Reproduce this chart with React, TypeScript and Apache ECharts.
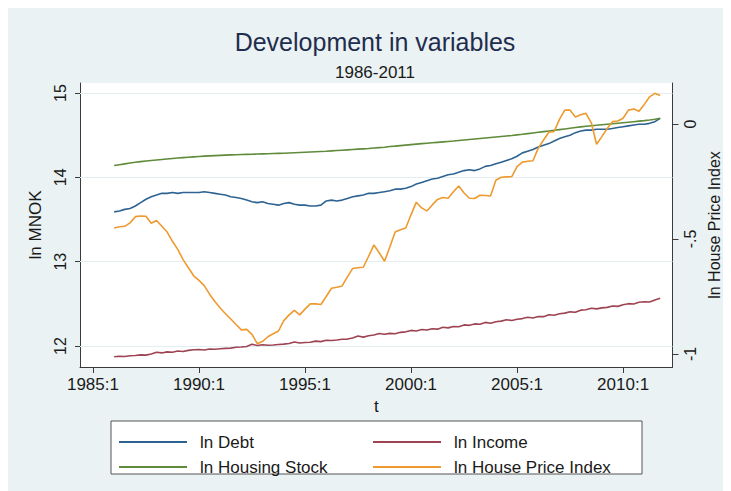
import React, { useEffect, useRef } from "react";
import * as echarts from "echarts";

const START_YEAR = 1986;

const SERIES_NAMES = ["ln Debt", "ln Income", "ln Housing Stock", "ln House Price Index"];

const debt = [
  13.59, 13.60, 13.62, 13.63,
  13.66, 13.70, 13.74, 13.77,
  13.79, 13.81, 13.81, 13.82,
  13.81, 13.82, 13.82, 13.82,
  13.82, 13.83, 13.82, 13.81,
  13.80, 13.79, 13.77, 13.76,
  13.75, 13.73, 13.71, 13.70,
  13.71, 13.69, 13.68, 13.67,
  13.69, 13.70, 13.68, 13.67,
  13.67, 13.66, 13.66, 13.67,
  13.72, 13.73, 13.72, 13.73,
  13.75, 13.77, 13.78, 13.79,
  13.81, 13.81, 13.82, 13.83,
  13.84, 13.86, 13.86, 13.87,
  13.89, 13.92, 13.94, 13.96,
  13.98, 13.99, 14.01, 14.03,
  14.04, 14.06, 14.08, 14.09,
  14.08, 14.10, 14.13, 14.14,
  14.16, 14.18, 14.20, 14.22,
  14.25, 14.29, 14.31, 14.33,
  14.36, 14.38, 14.40, 14.43,
  14.46, 14.48, 14.50, 14.53,
  14.55, 14.56, 14.56, 14.57,
  14.57, 14.57, 14.58, 14.59,
  14.60, 14.61, 14.62, 14.63,
  14.63, 14.64, 14.66, 14.70,
];

const income = [
  11.873, 11.878, 11.876, 11.885,
  11.888, 11.895, 11.892, 11.905,
  11.925, 11.918, 11.930, 11.925,
  11.940, 11.935, 11.948, 11.955,
  11.958, 11.952, 11.965, 11.962,
  11.968, 11.972, 11.975, 11.985,
  11.988, 11.995, 12.020, 12.005,
  12.015, 12.008, 12.012, 12.018,
  12.022, 12.030, 12.048, 12.035,
  12.042, 12.045, 12.058, 12.052,
  12.068, 12.065, 12.072, 12.080,
  12.082, 12.095, 12.118, 12.105,
  12.122, 12.130, 12.148, 12.140,
  12.150, 12.145, 12.162, 12.168,
  12.185, 12.178, 12.195, 12.190,
  12.205, 12.200, 12.222, 12.215,
  12.232, 12.228, 12.250, 12.245,
  12.262, 12.258, 12.280, 12.270,
  12.288, 12.295, 12.312, 12.302,
  12.318, 12.325, 12.340, 12.332,
  12.350, 12.348, 12.370, 12.365,
  12.382, 12.390, 12.405, 12.400,
  12.425, 12.430, 12.448, 12.440,
  12.452, 12.458, 12.475, 12.470,
  12.490, 12.502, 12.498, 12.518,
  12.525, 12.522, 12.545, 12.565,
];

const housingStock = [
  14.140, 14.150, 14.160, 14.170,
  14.178, 14.186, 14.193, 14.200,
  14.206, 14.212, 14.218, 14.224,
  14.229, 14.234, 14.239, 14.243,
  14.247, 14.251, 14.254, 14.257,
  14.260, 14.263, 14.266, 14.268,
  14.270, 14.272, 14.274, 14.276,
  14.278, 14.280, 14.282, 14.284,
  14.286, 14.289, 14.292, 14.295,
  14.298, 14.301, 14.304, 14.307,
  14.310, 14.314, 14.318, 14.322,
  14.326, 14.330, 14.334, 14.338,
  14.342, 14.347, 14.352, 14.357,
  14.365, 14.370, 14.376, 14.382,
  14.388, 14.394, 14.400, 14.405,
  14.410, 14.415, 14.420, 14.425,
  14.430, 14.436, 14.442, 14.448,
  14.454, 14.460, 14.466, 14.472,
  14.478, 14.484, 14.490, 14.496,
  14.503, 14.510, 14.518, 14.526,
  14.534, 14.542, 14.550, 14.558,
  14.566, 14.574, 14.582, 14.590,
  14.598, 14.605, 14.612, 14.618,
  14.624, 14.630, 14.636, 14.642,
  14.648, 14.654, 14.660, 14.666,
  14.672, 14.679, 14.688, 14.700,
];

const housePrice = [
  -0.452, -0.447, -0.445, -0.430,
  -0.403, -0.400, -0.401, -0.432,
  -0.420, -0.445, -0.470, -0.510,
  -0.545, -0.590, -0.625, -0.660,
  -0.680, -0.703, -0.740, -0.772,
  -0.800, -0.825, -0.848, -0.872,
  -0.895, -0.893, -0.915, -0.955,
  -0.945, -0.925, -0.912, -0.900,
  -0.855, -0.830, -0.810, -0.830,
  -0.805, -0.782, -0.782, -0.785,
  -0.750, -0.714, -0.710, -0.704,
  -0.665, -0.628, -0.625, -0.623,
  -0.575, -0.526, -0.560, -0.597,
  -0.535, -0.470, -0.460, -0.452,
  -0.395, -0.340, -0.365, -0.378,
  -0.352, -0.328, -0.320, -0.323,
  -0.295, -0.270, -0.300, -0.323,
  -0.324, -0.310, -0.311, -0.313,
  -0.245, -0.232, -0.230, -0.229,
  -0.185, -0.166, -0.162, -0.160,
  -0.105, -0.070, -0.036, -0.033,
  0.020, 0.060, 0.060, 0.030,
  0.040, 0.046, 0.005, -0.088,
  -0.055, -0.020, 0.010, 0.013,
  0.025, 0.060, 0.065, 0.055,
  0.085, 0.118, 0.133, 0.124,
];

const xTicks = [1985, 1990, 1995, 2000, 2005, 2010];
const leftTicks = [12, 13, 14, 15];
const rightTicks = [-1, -0.5, 0];

const COLORS = ["#2e6391", "#9e4352", "#5f8b3b", "#ee9a2e"];

const toPairs = (arr: number[]) => arr.map((v, i) => [START_YEAR + i / 4, v]);

export default function App() {
  const ref = useRef<HTMLDivElement>(null);

  useEffect(() => {
    document.body.style.overflow = "hidden";
    const chart = echarts.init(ref.current as HTMLDivElement, null, { renderer: "svg" });
    const font = "'Liberation Sans', Arial, Helvetica, sans-serif";
    const axisColor = "#3a3a3a";
    const textColor = "#1a1a1a";

    const legendCommon = {
      orient: "vertical",
      top: 419,
      icon: "rect",
      itemWidth: 68,
      itemHeight: 2,
      itemGap: 5,
      selectedMode: false,
      textStyle: { fontSize: 17, color: textColor, lineHeight: 20, padding: [0, 0, 0, 8], fontFamily: font },
    };

    const seriesData = [debt, income, housingStock, housePrice];

    chart.setOption({
      animation: false,
      backgroundColor: "#eaf2f3",
      textStyle: { fontFamily: font },
      graphic: [
        {
          type: "rect",
          z: 0,
          shape: { x: 103, y: 413, width: 531, height: 53 },
          style: { fill: "#ffffff", stroke: "#555555", lineWidth: 1 },
        },
        {
          type: "text",
          x: 367,
          y: 34,
          style: {
            text: "Development in variables",
            fontSize: 25,
            fontFamily: font,
            fill: "#1f2d4e",
            align: "center",
            verticalAlign: "middle",
          },
        },
        {
          type: "text",
          x: 367,
          y: 64,
          style: {
            text: "1986-2011",
            fontSize: 17,
            fontFamily: font,
            fill: textColor,
            align: "center",
            verticalAlign: "middle",
          },
        },
      ],
      grid: {
        left: 72,
        top: 75,
        width: 592.5,
        height: 284,
        show: true,
        backgroundColor: "#ffffff",
        borderWidth: 0,
      },
      legend: [
        { ...legendCommon, left: 106, data: [SERIES_NAMES[0], SERIES_NAMES[2]] },
        { ...legendCommon, left: 360, data: [SERIES_NAMES[1], SERIES_NAMES[3]] },
      ],
      xAxis: {
        type: "value",
        min: 1984.39,
        max: 2012.33,
        name: "t",
        nameLocation: "middle",
        nameGap: 26,
        nameTextStyle: { fontSize: 17, color: textColor },
        axisLine: { show: true, onZero: false, lineStyle: { color: axisColor, width: 1 } },
        axisTick: { show: true, length: 6, customValues: xTicks, lineStyle: { color: axisColor } },
        axisLabel: {
          customValues: xTicks,
          formatter: (v: number) => `${v}:1`,
          fontSize: 17,
          color: textColor,
          margin: 9,
        },
        splitLine: { show: false },
      },
      yAxis: [
        {
          type: "value",
          position: "left",
          min: 11.751,
          max: 15.1186,
          name: "ln MNOK",
          nameLocation: "middle",
          nameRotate: 90,
          nameGap: 32,
          nameTextStyle: { fontSize: 17, color: textColor },
          axisLine: { show: true, onZero: false, lineStyle: { color: axisColor, width: 1 } },
          axisTick: { show: true, length: 5, customValues: leftTicks, lineStyle: { color: axisColor } },
          axisLabel: {
            customValues: leftTicks,
            rotate: 90,
            fontSize: 16,
            color: textColor,
            margin: 12,
            formatter: (v: number) => String(v),
          },
          splitLine: { show: false },
        },
        {
          type: "value",
          position: "right",
          min: -1.0565,
          max: 0.178,
          name: "ln House Price Index",
          nameLocation: "middle",
          nameRotate: 90,
          nameGap: 30,
          nameTextStyle: { fontSize: 16, color: textColor },
          axisLine: { show: true, onZero: false, lineStyle: { color: axisColor, width: 1 } },
          axisTick: { show: true, length: 6, customValues: rightTicks, lineStyle: { color: axisColor } },
          axisLabel: {
            customValues: rightTicks,
            rotate: 90,
            fontSize: 16,
            color: textColor,
            margin: 10,
            formatter: (v: number) => (v === 0 ? "0" : String(v).replace("0.", ".")),
          },
          splitLine: { show: false },
        },
      ],
      series: SERIES_NAMES.map((name, k) => ({
        name,
        type: "line",
        yAxisIndex: k === 3 ? 1 : 0,
        data: toPairs(seriesData[k]),
        symbol: "none",
        z: 3 + k,
        lineStyle: { width: 1.6, color: COLORS[k] },
        itemStyle: { color: COLORS[k] },
        ...(k === 0
          ? {
              markLine: {
                silent: true,
                z: 1,
                symbol: "none",
                label: { show: false },
                lineStyle: { color: "#e4edef", width: 1, type: "solid" },
                data: leftTicks.map((v) => ({ yAxis: v })),
              },
            }
          : {}),
      })),
    });

    return () => {
      chart.dispose();
    };
  }, []);

  return <div ref={ref} style={{ width: 723, height: 483 }} />;
}
